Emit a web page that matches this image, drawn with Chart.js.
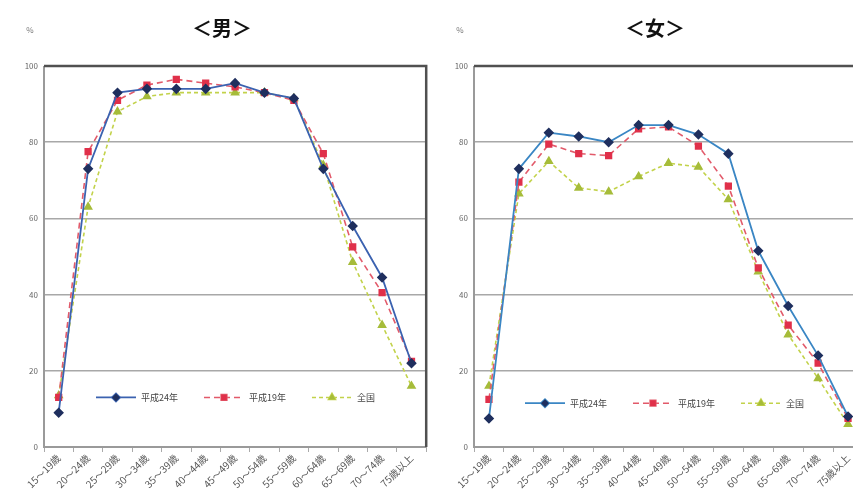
<!DOCTYPE html>
<html>
<head>
<meta charset="utf-8">
<script src="https://cdn.jsdelivr.net/npm/chart.js@4.4.1/dist/chart.umd.min.js"></script>
<style>
    html, body { margin: 0; padding: 0; background: #fff; overflow: hidden; width: 853px; height: 498px; }
    .box { position: absolute; top: 0; height: 498px; }
    #boxMale { left: 0; width: 432px; }
    #boxFemale { left: 430px; width: 445px; }
</style>
</head>
<body>
<div class="box" id="boxMale"><canvas id="maleChart" width="432" height="498"></canvas></div>
<div class="box" id="boxFemale"><canvas id="femaleChart" width="445" height="498"></canvas></div>
<script>
// age groups
const ageGroups = ['15～19歳', '20～24歳', '25～29歳', '30～34歳', '35～39歳', '40～44歳', '45～49歳',
    '50～54歳', '55～59歳', '60～64歳', '65～69歳', '70～74歳', '75歳以上'];
const yTicks = [0, 20, 40, 60, 80, 100];

// labour force participation (%) - male
const maleH24 = [9, 73, 93, 94, 94, 94, 95.5, 93, 91.5, 73, 58, 44.5, 22];
const maleH19 = [13, 77.5, 91, 95, 96.5, 95.5, 94.5, 93, 91, 77, 52.5, 40.5, 22.5];
const maleAll = [13.5, 63, 88, 92, 93, 93, 93, 93, 91.5, 74, 48.5, 32, 16];

// female
const femaleH24 = [7.5, 73, 82.5, 81.5, 80, 84.5, 84.5, 82, 77, 51.5, 37, 24, 8];
const femaleH19 = [12.5, 69.5, 79.5, 77, 76.5, 83.5, 84, 79, 68.5, 47, 32, 22, 7.5];
const femaleAll = [16, 66.5, 75, 68, 67, 71, 74.5, 73.5, 65, 46, 29.5, 18, 6];

const seriesLabels = ['平成24年', '平成19年', '全国'];
const JP_FONT = '"Noto Sans CJK JP", "Noto Sans", sans-serif';

function makeDatasets(h24, h19, all, blueLine) {
    return [{
        label: seriesLabels[0],
        data: h24,
        borderColor: blueLine,
        backgroundColor: '#1f2f5e',
        pointBorderColor: '#1f2f5e',
        borderWidth: 1.8,
        pointStyle: 'rectRot',
        pointRadius: 4,
        tension: 0
    }, {
        label: seriesLabels[1],
        data: h19,
        borderColor: '#e25a6a',
        backgroundColor: '#e0304a',
        pointBorderColor: '#e0304a',
        borderWidth: 1.6,
        borderDash: [6, 4],
        pointStyle: 'rect',
        pointRadius: 4,
        tension: 0
    }, {
        label: seriesLabels[2],
        data: all,
        borderColor: '#c2d24a',
        backgroundColor: '#a6bc3a',
        pointBorderColor: '#a6bc3a',
        borderWidth: 1.6,
        borderDash: [4, 3],
        pointStyle: 'triangle',
        pointRadius: 4,
        tension: 0
    }];
}

// frame, title, % mark and in-plot legend
const decorPlugin = {
    id: 'decor',
    beforeDatasetsDraw(chart, args, opts) {
        const a = chart.chartArea;
        const ctx = chart.ctx;
        ctx.save();
        ctx.strokeStyle = '#9a9a9a';
        ctx.lineWidth = 2;
        ctx.beginPath();
        ctx.moveTo(a.left, a.top); ctx.lineTo(a.left, a.bottom); ctx.lineTo(a.right, a.bottom);
        ctx.stroke();
        ctx.strokeStyle = '#505050';
        ctx.lineWidth = 2.5;
        ctx.beginPath();
        ctx.moveTo(a.left, a.top); ctx.lineTo(a.right, a.top); ctx.lineTo(a.right, a.bottom);
        ctx.stroke();
        ctx.restore();
    },
    afterDraw(chart, args, opts) {
        const a = chart.chartArea;
        const ctx = chart.ctx;
        ctx.save();
        ctx.fillStyle = '#111';
        ctx.font = 'bold 20px ' + JP_FONT;
        ctx.textAlign = 'center';
        ctx.textBaseline = 'middle';
        ctx.fillText(opts.title, opts.titleX, 28);
        ctx.fillStyle = '#777';
        ctx.font = '8px ' + JP_FONT;
        ctx.fillText('%', 30, 30);

        // legend inside the plot
        ctx.font = '9px ' + JP_FONT;
        ctx.textAlign = 'left';
        let x = a.left + opts.legendX;
        const y = chart.scales.y.getPixelForValue(opts.legendValue);
        chart.data.datasets.forEach(ds => {
            ctx.strokeStyle = ds.borderColor;
            ctx.lineWidth = ds.borderWidth;
            ctx.setLineDash(ds.borderDash || []);
            ctx.beginPath();
            ctx.moveTo(x, y); ctx.lineTo(x + 40, y);
            ctx.stroke();
            ctx.setLineDash([]);
            Chart.helpers.drawPoint(ctx, {
                pointStyle: ds.pointStyle, radius: 4, borderWidth: 1
            }, x + 20, y);
            ctx.fillStyle = ds.backgroundColor;
            ctx.fill();
            ctx.fillStyle = '#444';
            ctx.fillText(ds.label, x + 45, y);
            x += 45 + ctx.measureText(ds.label).width + 26;
        });
        ctx.restore();
    }
};

function buildChart(id, datasets, decor, padRight) {
    return new Chart(document.getElementById(id), {
        type: 'line',
        data: { labels: ageGroups, datasets: datasets },
        plugins: [decorPlugin],
        options: {
            responsive: false,
            animation: false,
            layout: { padding: { top: 66, right: padRight, left: 0, bottom: 0 } },
            plugins: {
                legend: { display: false },
                tooltip: { enabled: false },
                decor: decor
            },
            scales: {
                x: {
                    offset: true,
                    grid: { display: true, drawOnChartArea: false, offset: true, tickLength: 5, color: '#aaa' },
                    border: { display: false },
                    ticks: {
                        color: '#555',
                        font: { size: 10, family: JP_FONT },
                        maxRotation: 45,
                        minRotation: 45,
                        padding: 0
                    },
                    afterFit(scale) { scale.height = 51; }
                },
                y: {
                    min: 0,
                    max: 100,
                    afterBuildTicks(scale) { scale.ticks = yTicks.map(v => ({ value: v })); },
                    grid: { color: '#a8a8a8', lineWidth: 1.5, drawTicks: false },
                    border: { display: false },
                    ticks: { color: '#666', font: { size: 8, family: JP_FONT }, padding: 6 },
                    afterFit(scale) { scale.width = 44; }
                }
            }
        }
    });
}

buildChart('maleChart', makeDatasets(maleH24, maleH19, maleAll, '#3b62b0'),
    { title: '＜男＞', titleX: 222, legendX: 52, legendValue: 13 }, 5);
buildChart('femaleChart', makeDatasets(femaleH24, femaleH19, femaleAll, '#3a86c4'),
    { title: '＜女＞', titleX: 225, legendX: 51, legendValue: 11.5 }, 12);
</script>
</body>
</html>
